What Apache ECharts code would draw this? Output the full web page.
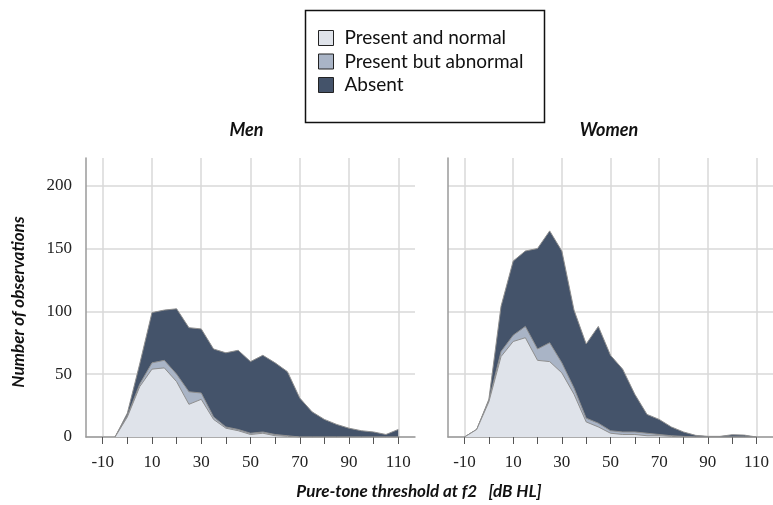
<!DOCTYPE html>
<html>
<head>
<meta charset="utf-8">
<script src="https://cdn.jsdelivr.net/npm/echarts@6/dist/echarts.min.js"></script>
<style>html,body{margin:0;padding:0;background:#fff;}#c{width:773px;height:505px;}</style>
</head>
<body>
<div id="c"></div>
<script>
// ---- data ----
const seriesNames = ['Present and normal', 'Present but abnormal', 'Absent'];
const panelTitles = ['Men', 'Women'];
const menX = [-5,0,5,10,15,20,25,30,35,40,45,50,55,60,65,70,75,80,85,90,95,100,105,110];
const menNormal   = [0,16,40,54,55,44,26,30,14,7,5,2,3,1,0.5,0,0,0,0,0,0,0,0,0];
const menAbnormal = [0,1,2,5,6,6,10,5,2,1,1,1,1,1,0.5,0,0,0,0,0,0,0,0,0];
const menAbsent   = [0,2,16,40,40,52,51,51,54,59,63,57,61,57,51,31,20,14,10,7,5,4,2,6];
const womenX = [-10,-5,0,5,10,15,20,25,30,35,40,45,50,55,60,65,70,75,80,85,90,95,100,105,110];
const womenNormal   = [0,6,28,64,76,79,61,60,51,34,12,8,3,2,2,1,1,0.5,0,0,0,0,0,0,0];
const womenAbnormal = [0,0,1,4,5,9,9,15,8,5,3,3,2,2,2,2,1,0.5,0.5,0,0,0,0,0,0];
const womenAbsent   = [0,0,1,36,59,60,80,89,89,62,59,77,60,50,30,15,12,7,3.5,1.3,0.5,0.5,1.8,1.5,0];
const xLabelValues = [-10,10,30,50,70,90,110];
const xTickValues = [-10,0,10,20,30,40,50,60,70,80,90,100,110];
const yTickValues = [0,50,100,150,200];

const fills = ['#dfe3ea', '#a9b4c6', '#44536a'];
const edge = '#8e8e8e';
const sans = 'Lato, "Open Sans", sans-serif';
const serif = 'Liberation Serif';

const chart = echarts.init(document.getElementById('c'), null, {renderer: 'canvas'});

const grids = [
  {left: 86, top: 158, width: 329, height: 279},
  {left: 448, top: 158, width: 329, height: 279}
];
const xAxes = [], yAxes = [];
[0,1].forEach(g => {
  xAxes.push({
    type: 'value', gridIndex: g, position: 'bottom', min: -16.8, max: 116.8,
    axisLine: {show: true, onZero: false, lineStyle: {color: '#9a9a9a', width: 1.5}},
    axisTick: {show: true, customValues: xTickValues, length: 7, lineStyle: {color: '#555', width: 1}},
    axisLabel: {customValues: xLabelValues, margin: 17, color: '#222', fontFamily: serif, fontSize: 17},
    splitLine: {show: false}
  });
  xAxes.push({
    type: 'value', gridIndex: g, position: 'bottom', min: -16.8, max: 116.8,
    axisLine: {show: false, onZero: false},
    axisTick: {show: false, customValues: xLabelValues},
    axisLabel: {show: false, customValues: xLabelValues},
    splitLine: {show: true, lineStyle: {color: '#d8d8d8', width: 1.5}}
  });
  yAxes.push({
    type: 'value', gridIndex: g, min: 0, max: 222,
    axisLine: {show: true, onZero: false, lineStyle: {color: '#9a9a9a', width: 1.5}},
    axisTick: {show: false, customValues: yTickValues},
    axisLabel: {show: g === 0, customValues: yTickValues, margin: 14, color: '#222', fontFamily: serif, fontSize: 17},
    splitLine: {show: true, lineStyle: {color: '#d8d8d8', width: 1.5}}
  });
});

// cumulative layers (drawn back to front: total, normal+abnormal, normal)
function cumul(arrs, upto) {
  return arrs[0].map((_, i) => { let s = 0; for (let k = 0; k <= upto; k++) s += arrs[k][i]; return s; });
}
function mk(xs, vals) { return xs.map((x, i) => [x, vals[i]]); }
const panels = [
  {xs: menX, arrs: [menNormal, menAbnormal, menAbsent]},
  {xs: womenX, arrs: [womenNormal, womenAbnormal, womenAbsent]}
];
const series = [];
panels.forEach((p, g) => {
  [2, 1, 0].forEach(k => {
    series.push({
      name: seriesNames[k], type: 'line', xAxisIndex: g * 2, yAxisIndex: g,
      symbol: 'none', showSymbol: false,
      data: mk(p.xs, cumul(p.arrs, k)),
      lineStyle: {color: edge, width: 1},
      itemStyle: {color: fills[k]},
      areaStyle: {color: fills[k], opacity: 1},
      z: 5 - k
    });
  });
});

chart.setOption({
  animation: false,
  backgroundColor: '#fff',
  grid: grids,
  xAxis: xAxes,
  yAxis: yAxes,
  legend: {
    data: seriesNames.map(n => ({name: n, icon: 'rect'})),
    orient: 'vertical', left: 318, top: 28, padding: 0,
    itemWidth: 15, itemHeight: 15, itemGap: 3.5,
    itemStyle: {borderColor: '#222', borderWidth: 1},
    textStyle: {fontFamily: sans, fontSize: 19, color: '#111', lineHeight: 20, padding: [0,0,0,6]},
    selectedMode: false
  },
  graphic: [
    {type: 'rect', left: 303, top: 8, shape: {width: 239, height: 112}, style: {fill: 'none', stroke: '#111', lineWidth: 1.5}, z: 10},
    {type: 'text', x: 246.5, y: 130, style: {text: panelTitles[0], font: 'italic bold 18px ' + sans, fill: '#111', textAlign: 'center', textVerticalAlign: 'middle'}},
    {type: 'text', x: 609, y: 130, style: {text: panelTitles[1], font: 'italic bold 18px ' + sans, fill: '#111', textAlign: 'center', textVerticalAlign: 'middle'}},
    {type: 'text', x: 419, y: 492, style: {text: 'Pure-tone threshold at f2   [dB HL]', font: 'italic bold 17px ' + sans, fill: '#111', textAlign: 'center', textVerticalAlign: 'middle'}},
    {type: 'text', x: 19, y: 302, rotation: Math.PI / 2, style: {text: 'Number of observations', font: 'italic bold 17px ' + sans, fill: '#111', textAlign: 'center', textVerticalAlign: 'middle'}}
  ],
  series: series
});
</script>
</body>
</html>
